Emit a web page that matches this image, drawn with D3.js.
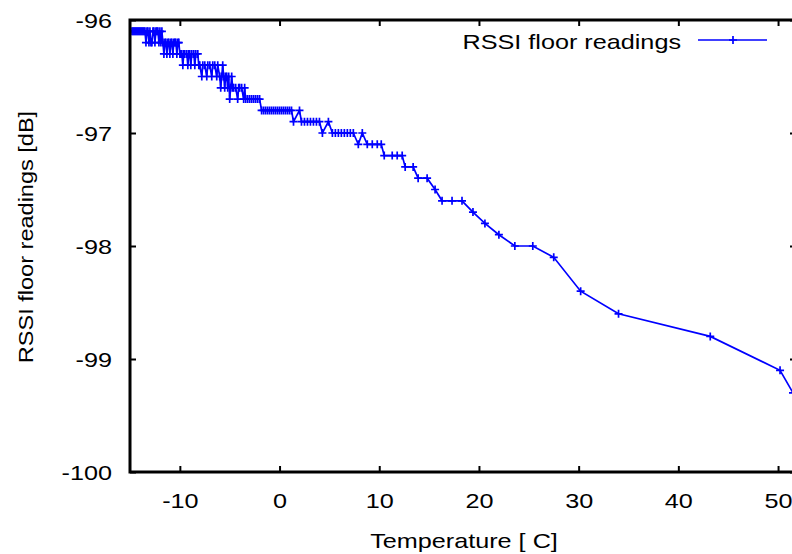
<!DOCTYPE html>
<html>
<head>
<meta charset="utf-8">
<script src="https://cdn.jsdelivr.net/npm/d3@7"></script>
<style>
  html, body { margin: 0; padding: 0; background: #fff; }
  svg { display: block; }
  text { font-family: "Liberation Sans", Arial, Helvetica, sans-serif; }
</style>
</head>
<body>
<svg id="chart" width="792" height="554"></svg>
<script>
// ---- data ----
const seriesName = "RSSI floor readings";
const temperature = [
  -14.8,-14.7,-14.6,-14.5,-14.4,-14.3,-14.2,-14.1,-14.0,-13.9,-13.8,-13.7,-13.6,-13.5,
  -13.4,-13.3,-13.2,-13.1,-13.0,-12.9,-12.8,-12.7,-12.6,-12.5,-12.4,-12.3,-12.2,-12.1,-12.0,-11.9,-11.8,-11.7,
  -11.6,-11.5,-11.4,-11.3,-11.2,-11.1,-11.0,-10.9,-10.8,-10.7,-10.6,-10.5,-10.4,-10.3,-10.2,-10.1,
  -10.0,-9.9,-9.8,-9.7,-9.6,-9.5,-9.3,-9.2,-9.1,-9.0,-8.9,-8.8,-8.6,-8.5,-8.4,-8.2,-8.1,
  -8.0,-7.8,-7.7,-7.5,-7.3,-7.2,-7.0,-6.8,-6.7,-6.5,-6.3,-6.2,-6.0,-5.9,-5.8,-5.7,-5.6,-5.5,-5.4,-5.3,-5.2,-5.1,
  -5.0,-4.9,-4.8,-4.7,-4.6,-4.4,-4.2,-4.1,-4.0,-3.8,-3.6,-3.5,-3.4,-3.2,-3.0,-2.8,-2.6,-2.4,-2.2,-2.0,
  -1.8,-1.6,-1.4,-1.2,-1.0,-0.8,-0.6,-0.4,-0.2,0.0,0.2,0.4,0.6,0.8,1.0,1.2,1.4,2.0,
  2.2,2.5,2.8,3.1,3.4,3.7,4.0,4.3,4.9,
  5.3,5.6,5.9,6.2,6.5,6.8,7.1,7.4,7.9,8.3,
  8.8,9.3,9.8,10.2,10.5,11.3,11.8,12.3,12.6,13.4,13.9,14.8,15.6,
  16.3,17.3,18.3,19.4,20.6,22.0,23.6,25.4,27.5,30.2,34.0,43.2,50.2,51.5
];
const rssi = [
  -96.1,-96.1,-96.1,-96.1,-96.1,-96.1,-96.1,-96.1,-96.1,-96.1,-96.1,-96.1,-96.1,-96.1,
  -96.2,-96.1,-96.1,-96.2,-96.1,-96.2,-96.2,-96.1,-96.1,-96.2,-96.1,-96.1,-96.1,-96.2,-96.1,-96.2,-96.1,-96.2,
  -96.3,-96.2,-96.2,-96.3,-96.2,-96.2,-96.3,-96.2,-96.2,-96.3,-96.2,-96.2,-96.2,-96.3,-96.2,-96.2,
  -96.3,-96.3,-96.3,-96.4,-96.3,-96.3,-96.3,-96.4,-96.3,-96.3,-96.4,-96.3,-96.3,-96.4,-96.3,-96.3,-96.4,
  -96.4,-96.5,-96.4,-96.4,-96.5,-96.4,-96.4,-96.5,-96.4,-96.4,-96.5,-96.4,-96.5,-96.6,-96.5,-96.4,-96.5,-96.6,-96.5,-96.5,-96.6,-96.5,
  -96.7,-96.6,-96.5,-96.6,-96.6,-96.6,-96.7,-96.6,-96.6,-96.6,-96.7,-96.6,-96.7,-96.7,-96.7,-96.7,-96.7,-96.7,-96.7,-96.7,
  -96.8,-96.8,-96.8,-96.8,-96.8,-96.8,-96.8,-96.8,-96.8,-96.8,-96.8,-96.8,-96.8,-96.8,-96.8,-96.8,-96.9,-96.8,
  -96.9,-96.9,-96.9,-96.9,-96.9,-96.9,-96.9,-97.0,-96.9,
  -97.0,-97.0,-97.0,-97.0,-97.0,-97.0,-97.0,-97.0,-97.1,-97.0,
  -97.1,-97.1,-97.1,-97.1,-97.2,-97.2,-97.2,-97.2,-97.3,-97.3,-97.4,-97.4,-97.5,
  -97.6,-97.6,-97.6,-97.7,-97.8,-97.9,-98.0,-98.0,-98.1,-98.4,-98.6,-98.8,-99.1,-99.3
];
const xTicks = [-10, 0, 10, 20, 30, 40, 50];
const yTicks = [-96, -97, -98, -99, -100];
const xTitle = "Temperature [ C]";
const yTitle = "RSSI floor readings [dB]";

// ---- layout ----
const L = 130, R = 796, T = 20, B = 472;
const fs = 21;          // font size
const wide = 1.2;       // horizontal glyph widening seen in the reference
const svg = d3.select("#chart");

const x = d3.scaleLinear().domain([-15, 51.8]).range([L, R]);
const y = d3.scaleLinear().domain([-100, -96]).range([B, T]);

const data = temperature.map((t, i) => ({ t, r: rssi[i] }));

function widen(sel, k) {
  sel.each(function () {
    const w = this.getComputedTextLength();
    d3.select(this).attr("textLength", w * k).attr("lengthAdjust", "spacingAndGlyphs");
  });
}

svg.append("defs").append("clipPath").attr("id", "clip")
  .append("rect").attr("x", L).attr("y", T).attr("width", R - L).attr("height", B - T);

const fmt = d => String(d);
const axB = svg.append("g").attr("transform", `translate(0,${B})`)
  .call(d3.axisBottom(x).tickValues(xTicks).tickSize(-6).tickPadding(21).tickFormat(fmt));
const axT = svg.append("g").attr("transform", `translate(0,${T})`)
  .call(d3.axisTop(x).tickValues(xTicks).tickSize(-6).tickFormat(""));
const axL = svg.append("g").attr("transform", `translate(${L},0)`)
  .call(d3.axisLeft(y).tickValues(yTicks).tickSize(-6).tickPadding(18).tickFormat(fmt));
const axR = svg.append("g").attr("transform", `translate(${R},0)`)
  .call(d3.axisRight(y).tickValues(yTicks).tickSize(-6).tickFormat(""));

[axB, axT, axL, axR].forEach(g => {
  g.select(".domain").remove();
  g.selectAll(".tick line").attr("stroke", "#000").attr("stroke-width", 2);
  g.selectAll(".tick text").attr("fill", "#000").style("font-size", fs + "px")
    .style("font-family", '"Liberation Sans", Arial, sans-serif');
});
axL.selectAll(".tick text").attr("dy", "0.35em");
widen(axB.selectAll(".tick text"), wide);
widen(axL.selectAll(".tick text"), wide);

const plot = svg.append("g").attr("clip-path", "url(#clip)");
const line = d3.line().x(d => x(d.t)).y(d => y(d.r));
plot.append("path").datum(data)
  .attr("d", line).attr("fill", "none").attr("stroke", "#0000ff").attr("stroke-width", 1.7);
const plus = "M-4,0H4M0,-4V4";
plot.selectAll(".pt").data(data).enter().append("path")
  .attr("class", "pt")
  .attr("transform", d => `translate(${x(d.t)},${y(d.r)})`)
  .attr("d", plus).attr("stroke", "#0000ff").attr("stroke-width", 1.7).attr("fill", "none");

svg.append("rect").attr("x", L).attr("y", T).attr("width", R - L).attr("height", B - T)
  .attr("fill", "none").attr("stroke", "#000").attr("stroke-width", 3);

// legend
const lt = svg.append("text").attr("x", 681).attr("y", 49).attr("text-anchor", "end")
  .style("font-size", fs + "px").text(seriesName);
widen(lt, wide);
svg.append("line").attr("x1", 698).attr("x2", 767).attr("y1", 40).attr("y2", 40)
  .attr("stroke", "#0000ff").attr("stroke-width", 1.7);
svg.append("path").attr("transform", "translate(733,40)").attr("d", plus)
  .attr("stroke", "#0000ff").attr("stroke-width", 1.7);

// axis titles
const xt = svg.append("text").attr("x", 464).attr("y", 548).attr("text-anchor", "middle")
  .style("font-size", fs + "px").text(xTitle);
widen(xt, wide);
const yt = svg.append("text").attr("transform", "translate(33,237) rotate(-90)").attr("text-anchor", "middle")
  .style("font-size", fs + "px").text(yTitle);
widen(yt, 1.12);
</script>
</body>
</html>
